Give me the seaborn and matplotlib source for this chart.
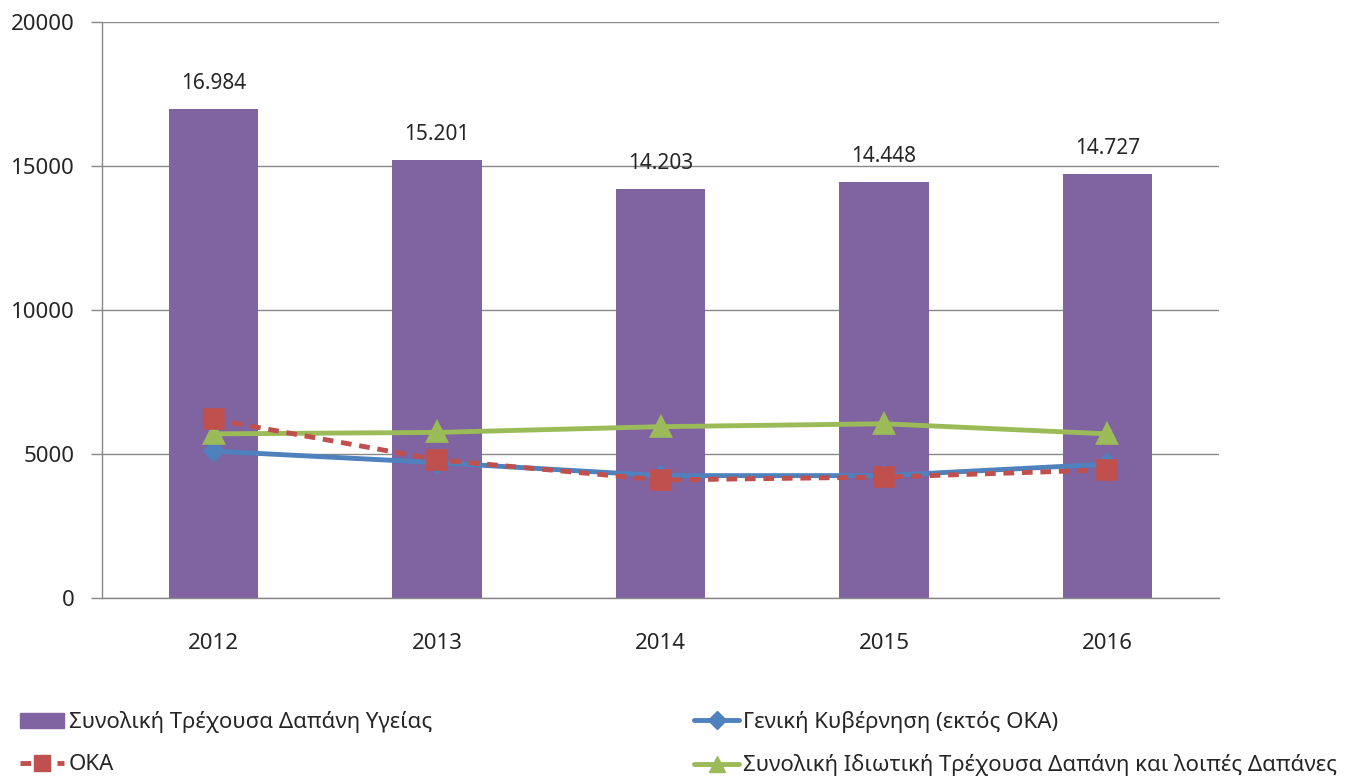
import matplotlib
matplotlib.use("Agg")
import matplotlib.pyplot as plt
import seaborn as sns
from matplotlib.patches import Patch
from matplotlib.lines import Line2D

# data
years = ["2012", "2013", "2014", "2015", "2016"]
total_health = [16984, 15201, 14203, 14448, 14727]
general_gov = [5100, 4700, 4250, 4250, 4650]
oka = [6200, 4800, 4100, 4200, 4450]
private_other = [5700, 5750, 5950, 6050, 5700]
bar_labels = ["16.984", "15.201", "14.203", "14.448", "14.727"]

names = [
    "Συνολική Τρέχουσα Δαπάνη Υγείας",
    "Γενική Κυβέρνηση (εκτός ΟΚΑ)",
    "ΟΚΑ",
    "Συνολική Ιδιωτική Τρέχουσα Δαπάνη και λοιπές Δαπάνες",
]

purple = "#8064A2"
blue = "#4F81BD"
red = "#C0504D"
green = "#9BBB59"
grey = "#888888"
dash = (0, (2.2, 1.6))

sns.set_style("white")
plt.rcParams["font.family"] = ["Noto Sans", "DejaVu Sans"]

fig = plt.figure(figsize=(13.46, 7.80), dpi=100)
ax = fig.add_axes([0.0758, 0.2333, 0.830, 0.7385])

sns.barplot(x=years, y=total_health, color=purple, width=0.4,
            saturation=1, linewidth=0, ax=ax, zorder=2)
ax.bar_label(ax.containers[0], labels=bar_labels, padding=11, fontsize=15)

sns.pointplot(x=years, y=general_gov, color=blue, marker="D", markersize=9,
              linewidth=3.5, errorbar=None, ax=ax, zorder=3)
sns.pointplot(x=years, y=private_other, color=green, marker="^", markersize=13,
              linewidth=3.5, errorbar=None, ax=ax, zorder=3)
sns.pointplot(x=years, y=oka, color=red, marker="s", markersize=13,
              linewidth=3.5, linestyle=dash, errorbar=None, ax=ax, zorder=4)

ax.set_ylim(0, 20000)
ax.set_xlim(-0.5, 4.5)
ax.set_yticks([0, 5000, 10000, 15000, 20000])
ax.yaxis.grid(True, color=grey, linewidth=1)
ax.set_axisbelow(True)
ax.set_xlabel("")
ax.set_ylabel("")

ax.set_xticks(range(len(years)))
ax.set_xticklabels(years)
ax.set_xticks([i - 0.5 for i in range(len(years) + 1)], minor=True)
ax.tick_params(axis="x", which="major", length=0, pad=25, labelsize=16)
ax.tick_params(axis="x", which="minor", length=8, color=grey, width=1, direction="out")
ax.tick_params(axis="y", length=8, color=grey, width=1, direction="out", pad=12, labelsize=16)
ax.tick_params(left=True, bottom=True)

for side in ["top", "right"]:
    ax.spines[side].set_visible(False)
for side in ["left", "bottom"]:
    ax.spines[side].set_color(grey)
    ax.spines[side].set_linewidth(1)

handles = [
    Patch(facecolor=purple, edgecolor=purple),
    Line2D([], [], color=red, linewidth=3.5, linestyle=dash, marker="s", markersize=12),
    Line2D([], [], color=blue, linewidth=3.5, marker="D", markersize=9),
    Line2D([], [], color=green, linewidth=3.5, marker="^", markersize=12),
]
labels = [names[0], names[2], names[1], names[3]]
fig.legend(handles, labels, ncol=2, loc="lower left", bbox_to_anchor=(0.0, -0.021),
           frameon=False, fontsize=16, handlelength=2.0, handletextpad=0.2,
           columnspacing=11.8, labelspacing=0.95)

fig.savefig("out.png", dpi=100)
